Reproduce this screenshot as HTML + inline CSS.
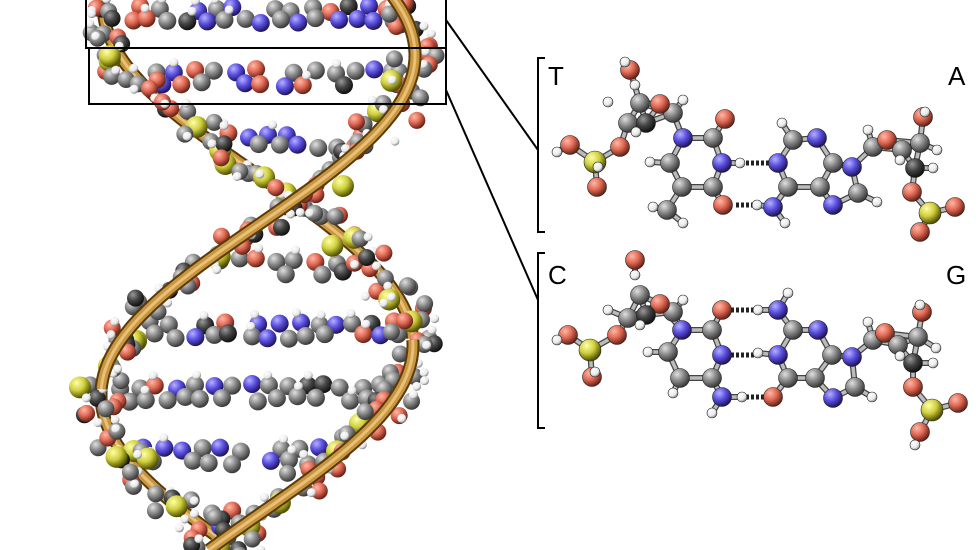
<!DOCTYPE html>
<html><head><meta charset="utf-8"><style>
html,body{margin:0;padding:0;background:#fff;width:980px;height:550px;overflow:hidden}
svg{display:block;overflow:hidden}
text{font-family:"Liberation Sans",sans-serif;font-size:26px;fill:#000}
</style></head><body>
<svg id="s" width="980" height="550" viewBox="0 0 980 550" xmlns="http://www.w3.org/2000/svg">
<defs>
<clipPath id="cp"><rect x="0" y="0" width="980" height="550"/></clipPath>
<radialGradient id="gG" cx="35%" cy="30%" r="70%"><stop offset="0" stop-color="#e0e0e0"/><stop offset=".5" stop-color="#8a8a8a"/><stop offset="1" stop-color="#3a3a3a"/></radialGradient>
<radialGradient id="gD" cx="35%" cy="30%" r="70%"><stop offset="0" stop-color="#999"/><stop offset=".5" stop-color="#444"/><stop offset="1" stop-color="#111"/></radialGradient>
<radialGradient id="gR" cx="35%" cy="30%" r="70%"><stop offset="0" stop-color="#ffb8a8"/><stop offset=".5" stop-color="#e06a55"/><stop offset="1" stop-color="#6a2218"/></radialGradient>
<radialGradient id="gB" cx="35%" cy="30%" r="70%"><stop offset="0" stop-color="#b8b0ff"/><stop offset=".5" stop-color="#5a50e0"/><stop offset="1" stop-color="#201560"/></radialGradient>
<radialGradient id="gW" cx="35%" cy="30%" r="70%"><stop offset="0" stop-color="#fff"/><stop offset=".7" stop-color="#e8e8e8"/><stop offset="1" stop-color="#888"/></radialGradient>
<radialGradient id="gY" cx="35%" cy="30%" r="70%"><stop offset="0" stop-color="#ffffa8"/><stop offset=".5" stop-color="#d0d040"/><stop offset="1" stop-color="#505000"/></radialGradient>
</defs>
<g clip-path="url(#cp)">
<g id="helix"></g>
<g id="right"></g>
<g fill="none" stroke="#000" stroke-width="2">
<rect x="86" y="-5" width="360" height="53"/>
<rect x="89" y="48" width="357" height="56"/>
<line x1="446" y1="20" x2="538" y2="150"/>
<line x1="446" y1="90" x2="538" y2="300"/>
<path d="M545 58 H538 V232 H545"/>
<path d="M545 253 H538 V428 H545"/>
</g>
<text x="548" y="85">T</text>
<text x="948" y="85">A</text>
<text x="548" y="284">C</text>
<text x="946" y="284">G</text>
</g>
</svg>
<script>
var NS="http://www.w3.org/2000/svg";
function el(p,t,a){var e=document.createElementNS(NS,t);for(var k in a)e.setAttribute(k,a[k]);p.appendChild(e);return e;}
var seed=11;function rnd(){seed=(seed*16807)%2147483647;return seed/2147483647;}
var H=document.getElementById('helix');
var P=680;
function fA(y){return 258+157*Math.cos(2*Math.PI*(y-55)/P);}
function fB(y){return 258-155*Math.cos(2*Math.PI*(y-5)/P);}
function rib(f,y0,y1){var d='';for(var y=y0;y<=y1;y+=3){d+=(y==y0?'M':'L')+f(y).toFixed(1)+' '+y;}return d;}
function drawRib(f,y0,y1){
 el(H,'path',{d:rib(f,y0,y1),fill:'none',stroke:'#5a3a08','stroke-width':13});
 el(H,'path',{d:rib(f,y0,y1),fill:'none',stroke:'#c8963e','stroke-width':9});
 el(H,'path',{d:rib(f,y0,y1),fill:'none',stroke:'#e8c07a','stroke-width':3});
}
drawRib(fB,-10,340);drawRib(fA,390,550);
var atoms=[];
var baseCols=['gG','gG','gG','gB','gG','gB','gG','gR','gD'];
for(var y=15;y<560;y+=63){
 var a=fA(y),b=fB(y);
 var lo=Math.min(a,b),hi=Math.max(a,b);
 var n=Math.max(2,Math.round((hi-lo)/19));
 for(var r=0;r<2;r++){
 for(var i=1;i<n;i++){
  if(rnd()<.15)continue;
  var x=lo+(hi-lo)*i/n+(rnd()-.5)*6+r*8,yy=y+(rnd()-.5)*6+r*12-6;
  atoms.push([x,yy,9,baseCols[Math.floor(rnd()*baseCols.length)]]);
  if(rnd()<.3)atoms.push([x+(rnd()-.5)*10,yy-10,4.5,'gW']);
 }}
}
for(var y=0;y<560;y+=22){
 [fA(y),fB(y)].forEach(function(p){
  for(var j=0;j<4;j++){
   var c=rnd();var t=c<.12?'gY':c<.42?'gR':c<.85?'gG':'gD';
   atoms.push([p+(rnd()-.5)*44,y+(rnd()-.5)*24,t=='gY'?11:8.5,t]);
  }
  atoms.push([p+(rnd()-.5)*52,y+(rnd()-.5)*24,4.5,'gW']);
  atoms.push([p+(rnd()-.5)*52,y+(rnd()-.5)*24,4.5,'gW']);
 });
}
atoms.forEach(function(a){if(a[1]-a[2]>550)return;el(H,'circle',{cx:a[0],cy:a[1],r:a[2],fill:'url(#'+a[3]+')'});});
drawRib(fA,-10,390);drawRib(fB,340,550);

var G=document.getElementById('right');
var TA=[[683,138,'B'],[713,138,'G'],[725,119,'R'],[722,163,'B'],[740,163,'W'],[713,187,'G'],[723,205,'R'],[682,187,'G'],[670,163,'G'],[650,162,'W'],[667,210,'G'],[653,207,'W'],[683,223,'W'],
[673,113,'G'],[683,100,'W'],[660,104,'R'],[640,103,'G'],[628,123,'G'],[646,123,'D'],[630,70,'R'],[625,62,'W'],[635,85,'W'],[608,102,'W'],[620,147,'R'],[595,162,'Y'],[570,145,'R'],[557,152,'W'],[597,187,'R'],[598,167,'W'],[636,132,'W'],
[778,163,'B'],[793,140,'G'],[782,123,'W'],[817,138,'B'],[833,163,'G'],[820,187,'G'],[788,187,'G'],[773,207,'B'],[757,205,'W'],[785,223,'W'],[833,205,'B'],[858,193,'G'],[877,202,'W'],[852,167,'B'],[873,147,'G'],[868,130,'W'],
[887,140,'R'],[902,150,'G'],[920,143,'G'],[923,117,'R'],[925,112,'W'],[915,168,'D'],[912,192,'R'],[930,213,'Y'],[955,207,'R'],[920,232,'R'],[937,150,'W'],[933,168,'W'],[900,160,'W']];
var CG=[[682,330,'B'],[712,330,'G'],[722,310,'R'],[722,355,'B'],[712,378,'G'],[722,397,'B'],[742,397,'W'],[712,413,'W'],[680,378,'G'],[673,393,'W'],[668,352,'G'],[648,352,'W'],
[673,312,'G'],[683,300,'W'],[660,304,'R'],[640,295,'G'],[628,318,'G'],[646,315,'D'],[635,260,'R'],[635,275,'W'],[608,310,'W'],[617,335,'R'],[590,350,'Y'],[568,335,'R'],[557,340,'W'],[592,377,'R'],[595,372,'W'],[640,325,'W'],
[778,310,'B'],[788,293,'W'],[758,310,'W'],[793,330,'G'],[818,330,'B'],[832,355,'G'],[778,355,'B'],[758,353,'W'],[788,378,'G'],[773,397,'R'],[815,378,'G'],[833,398,'B'],[855,387,'G'],[872,397,'W'],[852,357,'B'],[873,340,'G'],[868,322,'W'],
[885,333,'R'],[898,345,'G'],[918,337,'G'],[922,312,'R'],[920,305,'W'],[913,363,'D'],[913,387,'R'],[932,410,'Y'],[958,403,'R'],[920,432,'R'],[936,348,'W'],[933,363,'W'],[900,356,'W'],[915,445,'W']];
function heavy(t){return t!='W';}
function drawMol(L,hb){
 var bl=[];
 for(var i=0;i<L.length;i++)for(var j=i+1;j<L.length;j++){
  var a=L[i],b=L[j],d=Math.hypot(a[0]-b[0],a[1]-b[1]);
  if(heavy(a[2])&&heavy(b[2])&&d<35)bl.push([a,b]);
 }
 L.forEach(function(h){if(h[2]!='W')return;var best=null,bd=99;L.forEach(function(o){if(!heavy(o[2]))return;var d=Math.hypot(o[0]-h[0],o[1]-h[1]);if(d<bd){bd=d;best=o;}});if(best&&bd<26)bl.push([h,best]);});
 bl.forEach(function(b){el(G,'line',{x1:b[0][0],y1:b[0][1],x2:b[1][0],y2:b[1][1],stroke:'#444','stroke-width':6});el(G,'line',{x1:b[0][0],y1:b[0][1],x2:b[1][0],y2:b[1][1],stroke:'#bbb','stroke-width':3.5});});
 hb.forEach(function(h){el(G,'line',{x1:h[0],y1:h[1],x2:h[2],y2:h[1],stroke:'#222','stroke-width':5,'stroke-dasharray':'3 2'});});
 L.forEach(function(a){var r=a[2]=='W'?5:a[2]=='Y'?11:9.5;el(G,'circle',{cx:a[0],cy:a[1],r:r,fill:'url(#g'+a[2]+')',stroke:'#222','stroke-width':0.6});});
}
drawMol(TA,[[746,163,771],[736,205,755]]);
drawMol(CG,[[731,310,754],[731,355,754],[746,397,766]]);
</script>
</body></html>
